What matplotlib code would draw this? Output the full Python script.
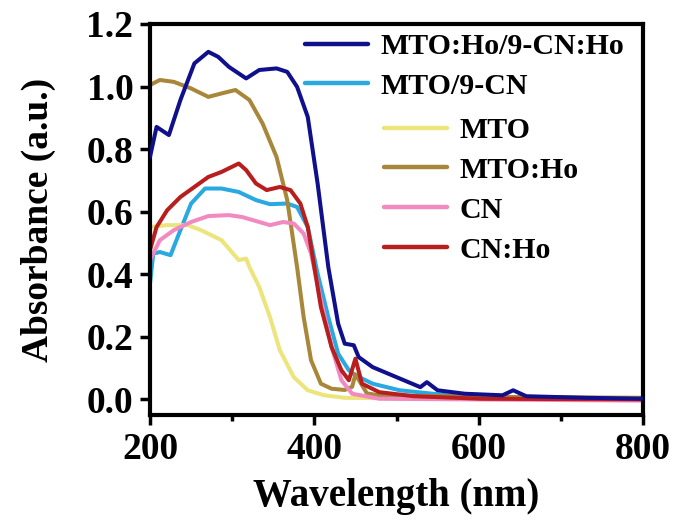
import numpy as np
import matplotlib
matplotlib.use("Agg")
import matplotlib.pyplot as plt
from matplotlib.ticker import MultipleLocator, FormatStrFormatter

plt.rcParams['font.family'] = ['Liberation Serif', 'DejaVu Serif']
plt.rcParams['font.weight'] = 'bold'

# UV-vis absorbance spectra, wavelength (nm) vs absorbance (a.u.)
wl_mto_ho_cn_ho = [200, 208, 223, 237, 254, 271, 283, 296, 317, 333, 354, 367, 379, 392, 404, 417,
                   429, 437, 448, 454, 471, 500, 529, 537, 550, 583, 629, 642, 658, 729, 800]
ab_mto_ho_cn_ho = [0.775, 0.871, 0.845, 0.957, 1.074, 1.111, 1.095, 1.063, 1.026, 1.053, 1.058, 1.047,
                   0.999, 0.903, 0.690, 0.423, 0.242, 0.178, 0.173, 0.135, 0.103, 0.071, 0.039, 0.055,
                   0.029, 0.018, 0.013, 0.029, 0.010, 0.005, 0.002]

wl_mto_cn = [200, 204, 212, 225, 237, 250, 267, 287, 308, 329, 346, 367, 379, 392, 404, 417, 429,
             442, 450, 471, 504, 562, 646, 800]
ab_mto_cn = [0.370, 0.466, 0.471, 0.461, 0.541, 0.626, 0.674, 0.674, 0.663, 0.637, 0.624, 0.626,
             0.615, 0.551, 0.402, 0.263, 0.146, 0.093, 0.077, 0.050, 0.029, 0.013, 0.007, 0.002]

wl_mto = [200, 221, 246, 262, 287, 308, 317, 321, 333, 346, 358, 375, 392, 412, 437, 500, 800]
ab_mto = [0.551, 0.557, 0.557, 0.541, 0.509, 0.445, 0.450, 0.423, 0.359, 0.263, 0.157, 0.071,
          0.029, 0.013, 0.005, 0.003, 0.002]

wl_mto_ho = [200, 212, 229, 250, 271, 287, 304, 321, 337, 354, 367, 379, 387, 396, 408, 421, 437,
             446, 450, 464, 479, 600, 800]
ab_mto_ho = [1.005, 1.021, 1.015, 0.994, 0.967, 0.978, 0.989, 0.957, 0.882, 0.775, 0.637, 0.423,
             0.263, 0.125, 0.050, 0.034, 0.030, 0.040, 0.080, 0.019, 0.013, 0.008, 0.005]

wl_cn = [200, 212, 229, 250, 271, 296, 312, 333, 346, 362, 375, 387, 396, 408, 421, 433, 446, 479, 800]
ab_cn = [0.445, 0.509, 0.541, 0.567, 0.586, 0.589, 0.583, 0.567, 0.557, 0.567, 0.562, 0.530,
         0.466, 0.317, 0.167, 0.061, 0.018, 0.002, -0.004]

wl_cn_ho = [200, 208, 221, 237, 254, 271, 287, 308, 317, 329, 342, 358, 371, 383, 392, 400, 408,
            421, 433, 442, 450, 458, 479, 521, 604, 800]
ab_cn_ho = [0.477, 0.551, 0.605, 0.647, 0.679, 0.711, 0.727, 0.754, 0.733, 0.690, 0.669, 0.679,
            0.669, 0.626, 0.551, 0.423, 0.295, 0.167, 0.093, 0.061, 0.130, 0.050, 0.023, 0.010,
            0.002, 0.000]

series = [
    ("MTO:Ho/9-CN:Ho", wl_mto_ho_cn_ho, ab_mto_ho_cn_ho, "#10108c"),
    ("MTO/9-CN", wl_mto_cn, ab_mto_cn, "#2aa8e2"),
    ("MTO", wl_mto, ab_mto, "#ebe57c"),
    ("MTO:Ho", wl_mto_ho, ab_mto_ho, "#a8863a"),
    ("CN", wl_cn, ab_cn, "#f08ac0"),
    ("CN:Ho", wl_cn_ho, ab_cn_ho, "#b81e1e"),
]

W, H = 678, 529
fig = plt.figure(figsize=(W / 100, H / 100), dpi=100)
ax = fig.add_axes([150 / W, 1 - 415 / H, 493 / W, 391 / H])

lines = []
for name, x, y, c in series:
    ln, = ax.plot(x, y, color=c, lw=2.9, label=name,
                  solid_joinstyle='round', solid_capstyle='round')
    lines.append(ln)
# navy curve sits on top of the others
lines[0].set_zorder(3)

ax.set_xlim(200, 800)
ax.set_ylim(-0.05, 1.2)
ax.xaxis.set_major_locator(MultipleLocator(200))
ax.xaxis.set_minor_locator(MultipleLocator(100))
ax.yaxis.set_major_locator(MultipleLocator(0.2))
ax.yaxis.set_major_formatter(FormatStrFormatter('%.1f'))
ax.tick_params(which='major', direction='out', length=7, width=2.5, labelsize=27, pad=5)
ax.tick_params(which='minor', direction='out', length=4, width=2.5)
for s in ax.spines.values():
    s.set_linewidth(3)

ax.set_xlabel("Wavelength (nm)", fontsize=28, fontweight='bold', labelpad=8)
ax.set_ylabel("Absorbance (a.u.)", fontsize=27, fontweight='bold', labelpad=22)

leg_kw = dict(frameon=False, fontsize=21.5, handlelength=2.1, handletextpad=0.42,
              labelspacing=0.43, borderpad=0, borderaxespad=0,
              bbox_transform=fig.transFigure, loc='upper left')
leg1 = fig.legend(handles=lines[:2], bbox_to_anchor=(305 / W, 1 - 33 / H), **leg_kw)
leg2 = fig.legend(handles=lines[2:], bbox_to_anchor=(384 / W, 1 - 117 / H), **leg_kw)
for leg in (leg1, leg2):
    for t in leg.get_texts():
        t.set_fontweight('bold')
    for h in leg.legend_handles:
        h.set_linewidth(3.2)

fig.savefig("out.png", dpi=100)
